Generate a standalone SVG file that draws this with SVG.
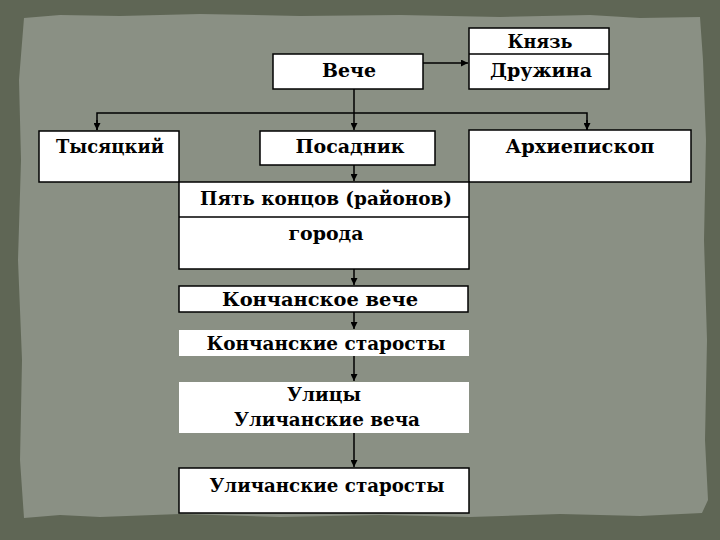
<svg xmlns="http://www.w3.org/2000/svg" width="720" height="540" viewBox="0 0 720 540">
  <style>
    .box { fill: #ffffff; stroke: #000000; stroke-width: 1.5; }
    .plain { fill: #ffffff; stroke: none; }
    .div { stroke: #000000; stroke-width: 1.5; fill: none; }
    .lbl { font-family: "DejaVu Serif", "Liberation Serif", serif; font-weight: bold; font-size: 18px; fill: #000000; text-anchor: middle; }
    .con { stroke: #000000; stroke-width: 1.5; fill: none; }
  </style>
  <defs>
    <marker id="arr" viewBox="0 0 10 10" refX="10" refY="5" markerWidth="7" markerHeight="7" markerUnits="userSpaceOnUse" orient="auto">
      <path d="M0,0 L10,5 L0,10 Z" fill="#000000"/>
    </marker>
  </defs>

  <g id="background">
    <rect x="0" y="0" width="720" height="540" fill="#5f6655"/>
    <path d="M24,18 L60,15 L120,16 L200,14 L300,16 L400,15 L500,17 L590,15 L640,18 L700,17 L703,60 L706,140 L704,240 L707,340 L705,440 L708,500 L702,513 L640,516 L560,514 L470,517 L380,515 L280,517 L180,514 L100,517 L60,515 L24,518 L20,460 L22,360 L18,260 L21,160 L19,80 Z" fill="#8a9084"/>
  </g>

  <g id="connectors">
    <line class="con" x1="423" y1="63" x2="468" y2="63" marker-end="url(#arr)"/>
    <line class="con" x1="354" y1="89" x2="354" y2="130" marker-end="url(#arr)"/>
    <polyline class="con" points="97,130 97,113 587,113 587,130" />
    <line class="con" x1="97" y1="120" x2="97" y2="130" marker-end="url(#arr)"/>
    <line class="con" x1="587" y1="120" x2="587" y2="130" marker-end="url(#arr)"/>
    <line class="con" x1="354" y1="165" x2="354" y2="181" marker-end="url(#arr)"/>
    <line class="con" x1="354" y1="269" x2="354" y2="285" marker-end="url(#arr)"/>
    <line class="con" x1="354" y1="312" x2="354" y2="329" marker-end="url(#arr)"/>
    <line class="con" x1="354" y1="356" x2="354" y2="381" marker-end="url(#arr)"/>
    <line class="con" x1="354" y1="433" x2="354" y2="467" marker-end="url(#arr)"/>
  </g>

  <g id="veche">
    <rect class="box" x="273" y="54" width="150" height="35"/>
    <text class="lbl" x="349" y="77" textLength="54" lengthAdjust="spacingAndGlyphs">Вече</text>
  </g>

  <g id="knyaz">
    <rect class="box" x="469" y="28" width="140" height="61"/>
    <line class="div" x1="469" y1="54" x2="609" y2="54"/>
    <text class="lbl" x="540" y="48" textLength="65" lengthAdjust="spacingAndGlyphs">Князь</text>
    <text class="lbl" x="541" y="77" textLength="102" lengthAdjust="spacingAndGlyphs">Дружина</text>
  </g>

  <g id="tysyatsky">
    <rect class="box" x="39" y="131" width="140" height="51"/>
    <text class="lbl" x="110" y="153" textLength="108" lengthAdjust="spacingAndGlyphs">Тысяцкий</text>
  </g>

  <g id="posadnik">
    <rect class="box" x="260" y="131" width="175" height="34"/>
    <text class="lbl" x="350" y="153" textLength="109" lengthAdjust="spacingAndGlyphs">Посадник</text>
  </g>

  <g id="arkhiepiskop">
    <rect class="box" x="469" y="130" width="222" height="52"/>
    <text class="lbl" x="580" y="153" textLength="149" lengthAdjust="spacingAndGlyphs">Архиепископ</text>
  </g>

  <g id="pyat-kontsov">
    <rect class="box" x="179" y="182" width="290" height="87"/>
    <line class="div" x1="179" y1="217" x2="469" y2="217"/>
    <text class="lbl" x="326" y="205" textLength="252" lengthAdjust="spacingAndGlyphs">Пять концов (районов)</text>
    <text class="lbl" x="326" y="240" textLength="75" lengthAdjust="spacingAndGlyphs">города</text>
  </g>

  <g id="konchanskoe-veche">
    <rect class="box" x="179" y="286" width="289" height="26"/>
    <text class="lbl" x="320" y="306" textLength="196" lengthAdjust="spacingAndGlyphs">Кончанское вече</text>
  </g>

  <g id="konchanskie-starosty">
    <rect class="plain" x="179" y="330" width="290" height="26"/>
    <text class="lbl" x="326" y="350" textLength="239" lengthAdjust="spacingAndGlyphs">Кончанские старосты</text>
  </g>

  <g id="ulitsy">
    <rect class="plain" x="179" y="382" width="290" height="51"/>
    <text class="lbl" x="324" y="401" textLength="74" lengthAdjust="spacingAndGlyphs">Улицы</text>
    <text class="lbl" x="327" y="426" textLength="186" lengthAdjust="spacingAndGlyphs">Уличанские веча</text>
  </g>

  <g id="ulichanskie-starosty">
    <rect class="box" x="179" y="468" width="290" height="45"/>
    <text class="lbl" x="327" y="492" textLength="235" lengthAdjust="spacingAndGlyphs">Уличанские старосты</text>
  </g>
</svg>
